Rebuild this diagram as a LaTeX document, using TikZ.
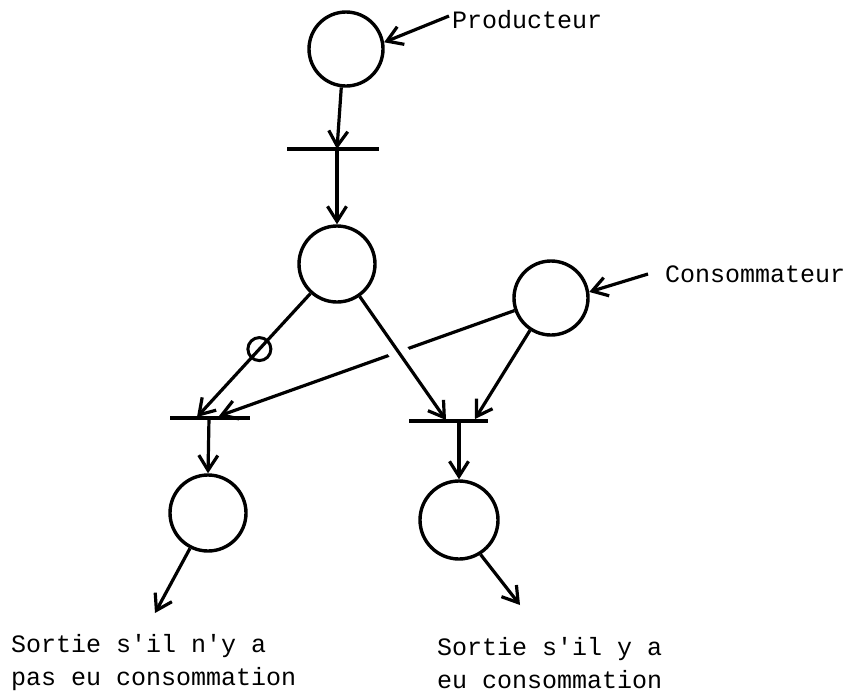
\documentclass[tikz,border=0pt]{standalone}
\usepackage{fontspec}
\setmonofont{Liberation Mono}
\usetikzlibrary{arrows.meta}
\tikzset{
  place/.style={circle, draw, line width=3.4pt, minimum size=#1, inner sep=0pt},
  arc/.style={line width=3.2pt, -{Straight Barb[length=15pt,width=19pt,line width=3.2pt]}},
  bar/.style={line width=3.6pt},
  lbl/.style={font=\ttfamily\fontsize{25}{33}\selectfont, inner sep=0pt},
}
\begin{document}
\begin{tikzpicture}[x=1pt,y=-1pt]
\useasboundingbox (0,0) rectangle (851,694);
% places
\node[place=74pt] (P1) at (346,49) {};
\node[place=76pt] (P2) at (337,264) {};
\node[place=74pt] (P3) at (551,298) {};
\node[place=76pt] (P4) at (208,513) {};
\node[place=78pt] (P5) at (459,520) {};
% transitions
\coordinate (T1l) at (287,149); \coordinate (T1r) at (379,149);
\coordinate (T1) at (337,149);
\draw[bar] (T1l) -- (T1r);
\coordinate (T2l) at (170,418); \coordinate (T2r) at (250,418);
\coordinate (T2) at (209,418); \coordinate (T2a) at (197,417); \coordinate (T2b) at (219,416);
\draw[bar] (T2l) -- (T2r);
\coordinate (T3l) at (409,421); \coordinate (T3r) at (488,421);
\coordinate (T3) at (459,421); \coordinate (T3a) at (446,420); \coordinate (T3b) at (475,419);
\draw[bar] (T3l) -- (T3r);
% labels
\node[lbl, anchor=west] (prod) at (452,20) {Producteur};
\node[lbl, anchor=west] (cons) at (665,274) {Consommateur};
\node[lbl, anchor=base west, align=left] (s1) at (11,685) {Sortie s'il n'y a\\pas eu consommation};
\node[lbl, anchor=base west, align=left] (s2) at (437,688) {Sortie s'il y a\\eu consommation};
\coordinate (E1) at (155,613);
\coordinate (E2) at (520,605);
% arcs
\draw[arc] ([xshift=-3pt,yshift=4pt]prod.west) -- (P1.10);
\draw[arc] ([xshift=-17pt]cons.west) -- (P3.9);
\draw[arc] (P1.263) -- (T1);
\draw[arc] (T1) -- (P2.north);
\draw[arc] (P3.199) -- (T2b);
\draw[arc, preaction={draw=white, line width=20pt, arrows=-, shorten <=45pt, shorten >=60pt}] (P2.305) -- (T3a);
\draw[arc] (P2.228) -- node[pos=0.45, circle, draw, line width=3pt, minimum size=23pt, inner sep=0pt] (inh) {} (T2a);
\draw[arc] (P3.237) -- (T3b);
\draw[arc] (T2) -- (P4.north);
\draw[arc] (T3) -- (P5.north);
\draw[arc] (P4.243) -- (E1);
\draw[arc] (P5.302) -- (E2);
\end{tikzpicture}
\end{document}
